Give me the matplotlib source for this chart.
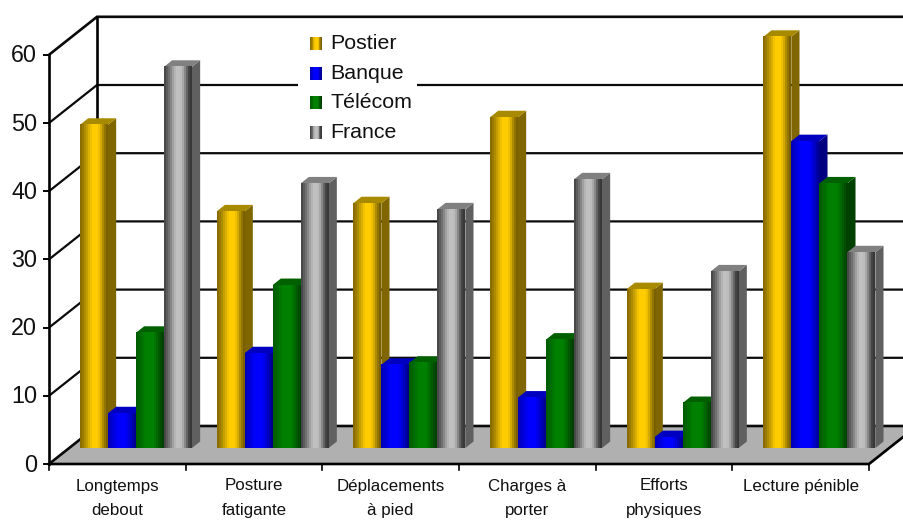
import matplotlib
matplotlib.use("Agg")
import matplotlib.pyplot as plt
import numpy as np
from matplotlib.colors import ListedColormap
from matplotlib.patches import Polygon, Rectangle

plt.rcParams["font.family"] = ["Liberation Sans", "DejaVu Sans"]

categories = ["Longtemps\ndebout", "Posture\nfatigante", "Déplacements\nà pied",
              "Charges à\nporter", "Efforts\nphysiques", "Lecture pénible"]
series = ["Postier", "Banque", "Télécom", "France"]
postier = [47.4, 34.7, 35.9, 48.5, 23.3, 60.3]
banque = [5.1, 13.9, 12.2, 7.4, 1.6, 45.0]
telecom = [16.9, 23.9, 12.5, 15.9, 6.6, 38.8]
france = [55.9, 38.8, 35.0, 39.4, 25.9, 28.7]
y_ticks = [0, 10, 20, 30, 40, 50, 60]

# vertical colour bands across each bar front, then side and top faces
bands = {
    "Postier": ["#8a6c00", "#9a7a00", "#ae8c00", "#c49d00", "#dcb000", "#f2c200", "#ffcc00",
                "#ffcc00", "#ffcc00", "#f0c000", "#d4a900", "#b08c00", "#927400", "#7a6000"],
    "Banque": ["#0000b8", "#0000c8", "#0000d8", "#0000e8", "#0000f4", "#0000ff", "#0000ff",
               "#0000ff", "#0000ff", "#0000ec", "#0000d8", "#0000c0", "#0000a8", "#000090"],
    "Télécom": ["#005c00", "#006400", "#006c00", "#007400", "#007c00", "#008000", "#008000",
                "#008000", "#008000", "#007400", "#006800", "#005800", "#004c00", "#004000"],
    "France": ["#484848", "#5c5c5c", "#707070", "#868686", "#a0a0a0", "#b4b4b4", "#c0c0c0",
               "#c0c0c0", "#bcbcbc", "#a8a8a8", "#888888", "#646464", "#444444", "#383838"],
}
side_colors = {"Postier": "#806600", "Banque": "#000080", "Télécom": "#004000", "France": "#606060"}
top_colors = {"Postier": "#a88a00", "Banque": "#0000c0", "Télécom": "#006000", "France": "#808080"}

W, H = 904, 520
cat_px = 136.67   # width of one category on the front edge
val_px = 6.82     # height of one value unit
x0_px, y0_px = 49, 464
depth_x = 48 / cat_px
depth_y = 38 / val_px
bar_w = 28 / cat_px
bar_offset = 31 / cat_px
bar_foot = 16 / val_px
bar_depth = 0.17


def proj(x, v, d=0.0):
    """Front-plane coordinates of a point lying at depth d (0 front, 1 back)."""
    return x + d * depth_x, v + d * depth_y


fig = plt.figure(figsize=(W / 100, H / 100), dpi=100)
ax = fig.add_axes([0, 0, 1, 1])
ax.axis("off")

# floor
floor = Polygon([proj(0, 0), proj(6, 0), proj(6, 0, 1), proj(0, 0, 1)],
                facecolor="#b0b0b0", edgecolor="none", zorder=1)
ax.add_patch(floor)

# walls and gridlines
for v in y_ticks:
    lw = 1.9 if v in (0, 60) else 1.6
    ax.plot(*zip(proj(0, v), proj(0, v, 1), proj(6.3, v, 1)), color="#0a0a0a", lw=lw, zorder=2,
            solid_joinstyle="miter")
    ax.plot(*zip(proj(-5 / cat_px, v), proj(0, v)), color="black", lw=1.4, zorder=2)
    ax.text(-12 / cat_px, v - 0.15, str(v), ha="right", va="center", fontsize=16.8, color="#111111")
ax.plot(*zip(proj(0, 0), proj(0, 60)), color="black", lw=1.9, zorder=2)
ax.plot(*zip(proj(0, 0, 1), proj(0, 60, 1)), color="black", lw=1.9, zorder=2)

# front floor edge, category ticks and labels
ax.plot(*zip(proj(0, 0), proj(6, 0), proj(6, 0, 1)), color="black", lw=1.9, zorder=3)
ax.plot(*zip(proj(0, 0), proj(0, -6 / val_px)), color="black", lw=1.2, zorder=3)
for i, label in enumerate(categories):
    ax.plot(*zip(proj(i + 1, 0), proj(i + 1, -6 / val_px)), color="black", lw=1.2, zorder=3)
    ax.text(i + 0.5, -14.5 / val_px, label, ha="center", va="top", fontsize=12.2,
            linespacing=1.78, color="#111111")

# legend panel, it hides the gridline running behind it
ax.add_patch(Rectangle(((298 - x0_px) / cat_px, (y0_px - 150) / val_px), 119 / cat_px, 120 / val_px,
                       facecolor="white", edgecolor="none", zorder=3))

all_values = [postier, banque, telecom, france]
for j, (name, values) in enumerate(zip(series, all_values)):
    cmap = ListedColormap(bands[name])
    grad = np.arange(len(bands[name]))[None, :]
    dx = bar_depth * depth_x
    dy = bar_depth * depth_y
    for i, v in enumerate(values):
        left = i + bar_offset + j * bar_w
        right = left + bar_w
        top = bar_foot + v
        z = 4 + j + i * 10
        # side face
        ax.add_patch(Polygon([(right, bar_foot), (right + dx, bar_foot + dy),
                              (right + dx, top + dy), (right, top)],
                             facecolor=side_colors[name], edgecolor="none", zorder=z))
        # top face
        ax.add_patch(Polygon([(left, top), (right, top), (right + dx, top + dy), (left + dx, top + dy)],
                             facecolor=top_colors[name], edgecolor="none", zorder=z))
        ax.imshow(grad, cmap=cmap, extent=(left, right, bar_foot, top), aspect="auto",
                  interpolation="nearest", zorder=z + 0.5)

    # legend entry
    ly = (y0_px - (43.5 + j * 29.7)) / val_px
    lx = (310 - x0_px) / cat_px
    ax.imshow(grad, cmap=cmap, extent=(lx, lx + 12 / cat_px, ly - 6.5 / val_px, ly + 6.5 / val_px),
              aspect="auto", interpolation="nearest", zorder=90)
    ax.text((330 - x0_px) / cat_px, ly, name, ha="left", va="center", fontsize=15.4,
            color="#111111", zorder=90)

ax.set_xlim(-x0_px / cat_px, (W - x0_px) / cat_px)
ax.set_ylim(-(H - y0_px) / val_px, y0_px / val_px)

fig.savefig("out.png", dpi=100)
